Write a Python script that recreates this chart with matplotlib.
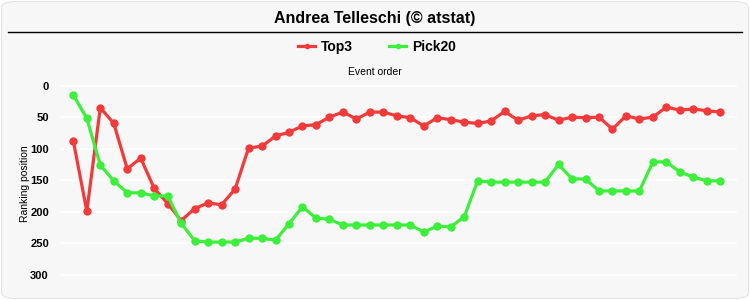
import matplotlib
matplotlib.use("Agg")
import matplotlib.pyplot as plt
from matplotlib.patches import FancyBboxPatch
from matplotlib.lines import Line2D

plt.rcParams['font.family'] = ['Liberation Sans', 'DejaVu Sans']

title = "Andrea Telleschi (© atstat)"
series_names = ["Top3", "Pick20"]
top3 = [88, 199, 35, 60, 132, 115, 163, 187, 214, 195, 186, 189, 164, 99,
        96, 80, 74, 64, 62, 50, 42, 53, 42, 42, 48, 51, 64, 51, 54, 58, 60, 56,
        41, 55, 48, 46, 55, 50, 51, 50, 69, 48, 53, 50, 34, 39, 37, 40, 42]
pick20 = [15, 52, 126, 151, 170, 170, 175, 175, 218, 246, 248, 248, 248, 242,
          242, 245, 219, 192, 210, 212, 221, 221, 221, 221, 221, 221, 232, 223, 224, 208, 151, 153,
          153, 153, 153, 153, 125, 148, 148, 167, 167, 167, 167, 121, 121, 137, 145, 151, 151]
yticks = [0, 50, 100, 150, 200, 250, 300]
colors = ["#f23a3a", "#3bef3b"]

W, H = 750, 300
fig = plt.figure(figsize=(7.5, 3.0), dpi=100)
fig.patch.set_facecolor("white")

bg = FancyBboxPatch((1.5 / W, 1.5 / H), (W - 3) / W, (H - 3) / H,
                    boxstyle="round,pad=0,rounding_size=0.02",
                    transform=fig.transFigure, facecolor="#f7f7f7",
                    edgecolor="#e4e4e4", linewidth=0.8, zorder=-10)
fig.patches.append(bg)

fig.text(0.5, 1 - 18 / H, title, ha="center", va="center",
         fontsize=11.5, fontweight="bold", color="black")
fig.add_artist(Line2D([8 / W, 742 / W], [1 - 32 / H, 1 - 32 / H],
                      color="black", linewidth=1.0, transform=fig.transFigure))

ax = fig.add_axes([60 / W, 10 / H, (737 - 60) / W, (290 - 78) / H])
ax.set_facecolor("none")
x = list(range(len(top3)))
for vals, name, c in zip([top3, pick20], series_names, colors):
    ax.plot(x, vals, color=c, linewidth=2.3, marker="o", markersize=5,
            label=name, solid_joinstyle="round", zorder=3)

ax.set_xlim(-0.99, 49.24)
ax.set_ylim(324, -12)
ax.set_yticks(yticks)
ax.set_yticklabels([str(t) for t in yticks], fontweight="bold", fontsize=8)
ax.tick_params(axis="y", length=0, pad=8)
ax.tick_params(axis="x", length=0, labelbottom=False)
ax.set_xticks([])
ax.grid(axis="y", color="white", linewidth=1.2)
for s in ax.spines.values():
    s.set_visible(False)
ax.set_ylabel("Ranking position", fontsize=7.5, labelpad=0)

fig.text(0.5, 1 - 72 / H, "Event order", ha="center", va="center", fontsize=7.5)

leg = fig.legend(loc="center", bbox_to_anchor=(0.503, 1 - 47 / H), ncol=2,
                 frameon=False, prop={"weight": "bold", "size": 10},
                 handlelength=1.2, columnspacing=2.6, handletextpad=0.45,
                 markerscale=0.6)

fig.savefig("out.png", dpi=100, facecolor="white")
